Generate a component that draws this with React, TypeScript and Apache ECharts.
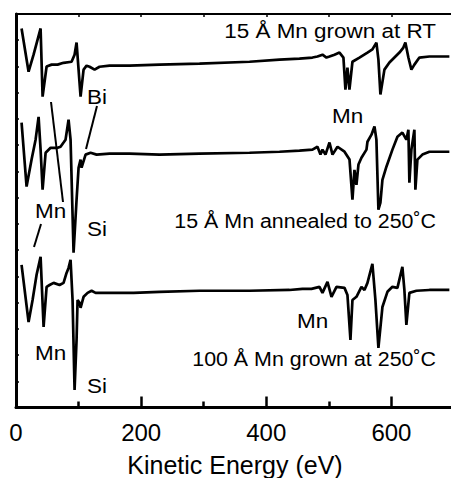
import React, { useEffect, useRef } from "react";
import * as echarts from "echarts";

// Kinetic energy (eV) and signal (offset, arbitrary units) for each spectrum
const rtEnergy = [8.9, 20.1, 28.1, 39.3, 42.5, 48.9, 56.9, 66.5, 76.0, 88.8, 93.6, 96.8, 100.0, 103.2, 108.0, 112.8, 117.6, 125.6, 133.5, 149.5, 181.4, 229.4, 293.3, 373.2, 421.1, 453.0, 473.8, 481.8, 489.8, 496.2, 501.0, 509.0, 517.0, 523.3, 526.5, 529.7, 532.9, 537.7, 548.9, 561.7, 569.6, 576.0, 579.2, 582.4, 588.8, 596.8, 604.8, 612.8, 619.1, 622.3, 627.1, 631.9, 636.7, 644.7, 660.7, 676.7, 692.6];
const rtSignal = [14.45, 12.8, 13.45, 14.45, 11.85, 13.0, 13.07, 13.07, 13.14, 13.18, 13.45, 13.91, 12.88, 11.85, 12.88, 13.03, 12.99, 12.88, 12.99, 13.03, 13.03, 13.07, 13.11, 13.18, 13.26, 13.3, 13.34, 13.38, 13.45, 13.34, 13.38, 13.45, 13.53, 13.34, 12.12, 12.96, 12.12, 13.18, 13.34, 13.53, 13.65, 13.91, 13.26, 11.93, 12.88, 13.15, 13.34, 13.53, 13.72, 13.91, 13.34, 12.88, 13.07, 13.34, 13.38, 13.38, 13.38];

const annEnergy = [8.9, 16.9, 24.9, 31.3, 36.1, 39.3, 42.5, 47.3, 55.3, 66.5, 71.2, 76.0, 79.2, 84.0, 87.2, 92.0, 96.8, 100.0, 103.2, 104.8, 111.2, 119.2, 128.8, 149.5, 181.4, 229.4, 293.3, 373.2, 421.1, 453.0, 473.8, 481.8, 486.6, 489.8, 494.6, 501.0, 505.8, 513.8, 525.0, 533.0, 537.7, 540.9, 544.1, 547.3, 552.1, 560.1, 561.7, 568.1, 572.9, 576.0, 579.2, 582.4, 585.6, 592.0, 601.6, 609.6, 617.5, 623.9, 627.1, 628.7, 631.9, 636.7, 638.3, 641.5, 649.5, 660.7, 676.7, 692.6];
const annSignal = [10.86, 8.42, 9.45, 10.21, 11.08, 9.83, 8.3, 9.71, 9.9, 9.9, 9.94, 10.1, 10.21, 10.97, 10.21, 5.9, 7.92, 9.14, 9.45, 9.14, 9.64, 9.71, 9.64, 9.68, 9.68, 9.64, 9.68, 9.71, 9.75, 9.79, 9.83, 9.94, 9.64, 9.83, 9.64, 10.1, 9.64, 9.94, 9.75, 9.45, 7.92, 9.06, 8.49, 9.26, 9.52, 9.83, 10.13, 10.4, 10.71, 10.21, 7.54, 7.81, 8.68, 9.18, 9.83, 10.32, 10.48, 10.21, 10.59, 8.57, 9.83, 10.59, 8.3, 9.45, 9.64, 9.75, 9.75, 9.75];

const hotEnergy = [8.9, 20.1, 26.5, 32.9, 39.3, 44.1, 48.9, 53.7, 60.1, 69.6, 76.0, 80.8, 84.0, 87.2, 90.4, 93.6, 96.8, 98.4, 101.6, 103.2, 108.0, 114.4, 120.8, 127.2, 144.8, 187.9, 229.4, 293.3, 373.2, 437.0, 457.8, 472.2, 485.0, 489.8, 497.8, 504.2, 512.2, 525.0, 529.7, 534.5, 537.7, 544.1, 552.1, 556.9, 561.7, 569.6, 574.4, 579.2, 585.6, 593.6, 601.6, 609.6, 617.5, 620.7, 623.9, 628.7, 639.9, 660.7, 692.6];
const hotSignal = [5.44, 3.26, 4.1, 5.06, 5.74, 3.07, 4.6, 4.67, 4.75, 4.67, 4.75, 5.13, 5.32, 5.63, 4.1, 0.67, 2.58, 4.1, 3.99, 3.8, 4.22, 4.37, 4.45, 4.37, 4.37, 4.37, 4.41, 4.45, 4.45, 4.48, 4.52, 4.52, 4.6, 4.37, 4.79, 4.22, 4.6, 4.56, 4.29, 2.58, 4.1, 4.22, 4.6, 4.48, 4.75, 5.48, 4.1, 2.27, 3.83, 4.41, 4.6, 4.56, 5.36, 4.48, 3.15, 4.37, 4.45, 4.48, 4.48];

const seriesNames = ["15 Å Mn grown at RT", "15 Å Mn annealed to 250˚C", "100 Å Mn grown at 250˚C"];
const xTickValues = [0, 200, 400, 600];

const FONT = "'Liberation Sans', Arial, Helvetica, sans-serif";

function zip(xs: number[], ys: number[]) {
  return xs.map((x, i) => [x, ys[i]]);
}

export default function App() {
  const ref = useRef<HTMLDivElement>(null);
  useEffect(() => {
    if (!ref.current) return;
    const chart = echarts.init(ref.current, undefined, { renderer: "svg" });
    const txt = (text: string, x: number, y: number, align: string, size = 21) => ({
      type: "text",
      x,
      y,
      scaleX: 1.07,
      style: {
        text,
        fill: "#000",
        font: `${size}px ${FONT}`,
        align,
        verticalAlign: "middle",
      },
    });
    const ln = (x1: number, y1: number, x2: number, y2: number) => ({
      type: "line",
      shape: { x1, y1, x2, y2 },
      style: { stroke: "#000", lineWidth: 2 },
    });
    chart.setOption({
      animation: false,
      backgroundColor: "#fff",
      grid: { left: 16, top: 14, width: 438, height: 393.5, outerBoundsMode: "none", containLabel: false },
      xAxis: [
        {
          type: "value",
          min: 0,
          max: 700,
          interval: 200,
          name: "Kinetic Energy (eV)",
          nameLocation: "middle",
          nameGap: 45,
          nameTextStyle: { fontFamily: FONT, fontSize: 25, color: "#000" },
          axisLine: { lineStyle: { color: "#000", width: 3 } },
          axisTick: { inside: true, length: 11, lineStyle: { color: "#000", width: 2.5 } },
          minorTick: { show: true, splitNumber: 2, length: 6, lineStyle: { color: "#000", width: 2.5 } },
          axisLabel: {
            margin: 13,
            fontFamily: FONT,
            fontSize: 24,
            color: "#000",
            formatter: (v: number) => (xTickValues.includes(v) ? String(v) : ""),
          },
          splitLine: { show: false },
        },
        {
          type: "value",
          position: "top",
          min: 0,
          max: 700,
          interval: 100,
          axisLine: { show: true, lineStyle: { color: "#000", width: 2 } },
          axisTick: { inside: true, length: 3, lineStyle: { color: "#000", width: 1.5 } },
          axisLabel: { show: false },
          splitLine: { show: false },
        },
      ],
      yAxis: {
        type: "value",
        min: 0,
        max: 15,
        interval: 1,
        axisLine: { show: true, lineStyle: { color: "#000", width: 3 } },
        axisTick: { inside: true, length: 3, lineStyle: { color: "#000", width: 1.5 } },
        axisLabel: { show: false },
        splitLine: { show: false },
      },
      series: [
        { name: seriesNames[0], data: zip(rtEnergy, rtSignal) },
        { name: seriesNames[1], data: zip(annEnergy, annSignal) },
        { name: seriesNames[2], data: zip(hotEnergy, hotSignal) },
      ].map((s) => ({
        ...s,
        type: "line",
        showSymbol: false,
        lineStyle: { color: "#000", width: 2.7 },
        itemStyle: { color: "#000" },
      })),
      graphic: [
        txt(seriesNames[0], 436, 31, "right", 21),
        txt(seriesNames[1], 436, 221, "right", 20),
        txt(seriesNames[2], 436, 359, "right", 20),
        txt("Bi", 87, 97, "left"),
        txt("Mn", 332, 116, "left"),
        txt("Mn", 35, 211, "left"),
        txt("Si", 87, 229, "left"),
        txt("Mn", 297, 321, "left"),
        txt("Mn", 35, 353, "left"),
        txt("Si", 87, 386, "left"),
        ln(97, 106, 86, 149),
        ln(51, 102, 63, 202),
        ln(41, 224, 34, 247),
      ],
    });
    return () => chart.dispose();
  }, []);
  return (
    <div
      ref={ref}
      style={{ position: "fixed", left: 0, top: 0, width: 451, height: 478, background: "#fff" }}
    />
  );
}
